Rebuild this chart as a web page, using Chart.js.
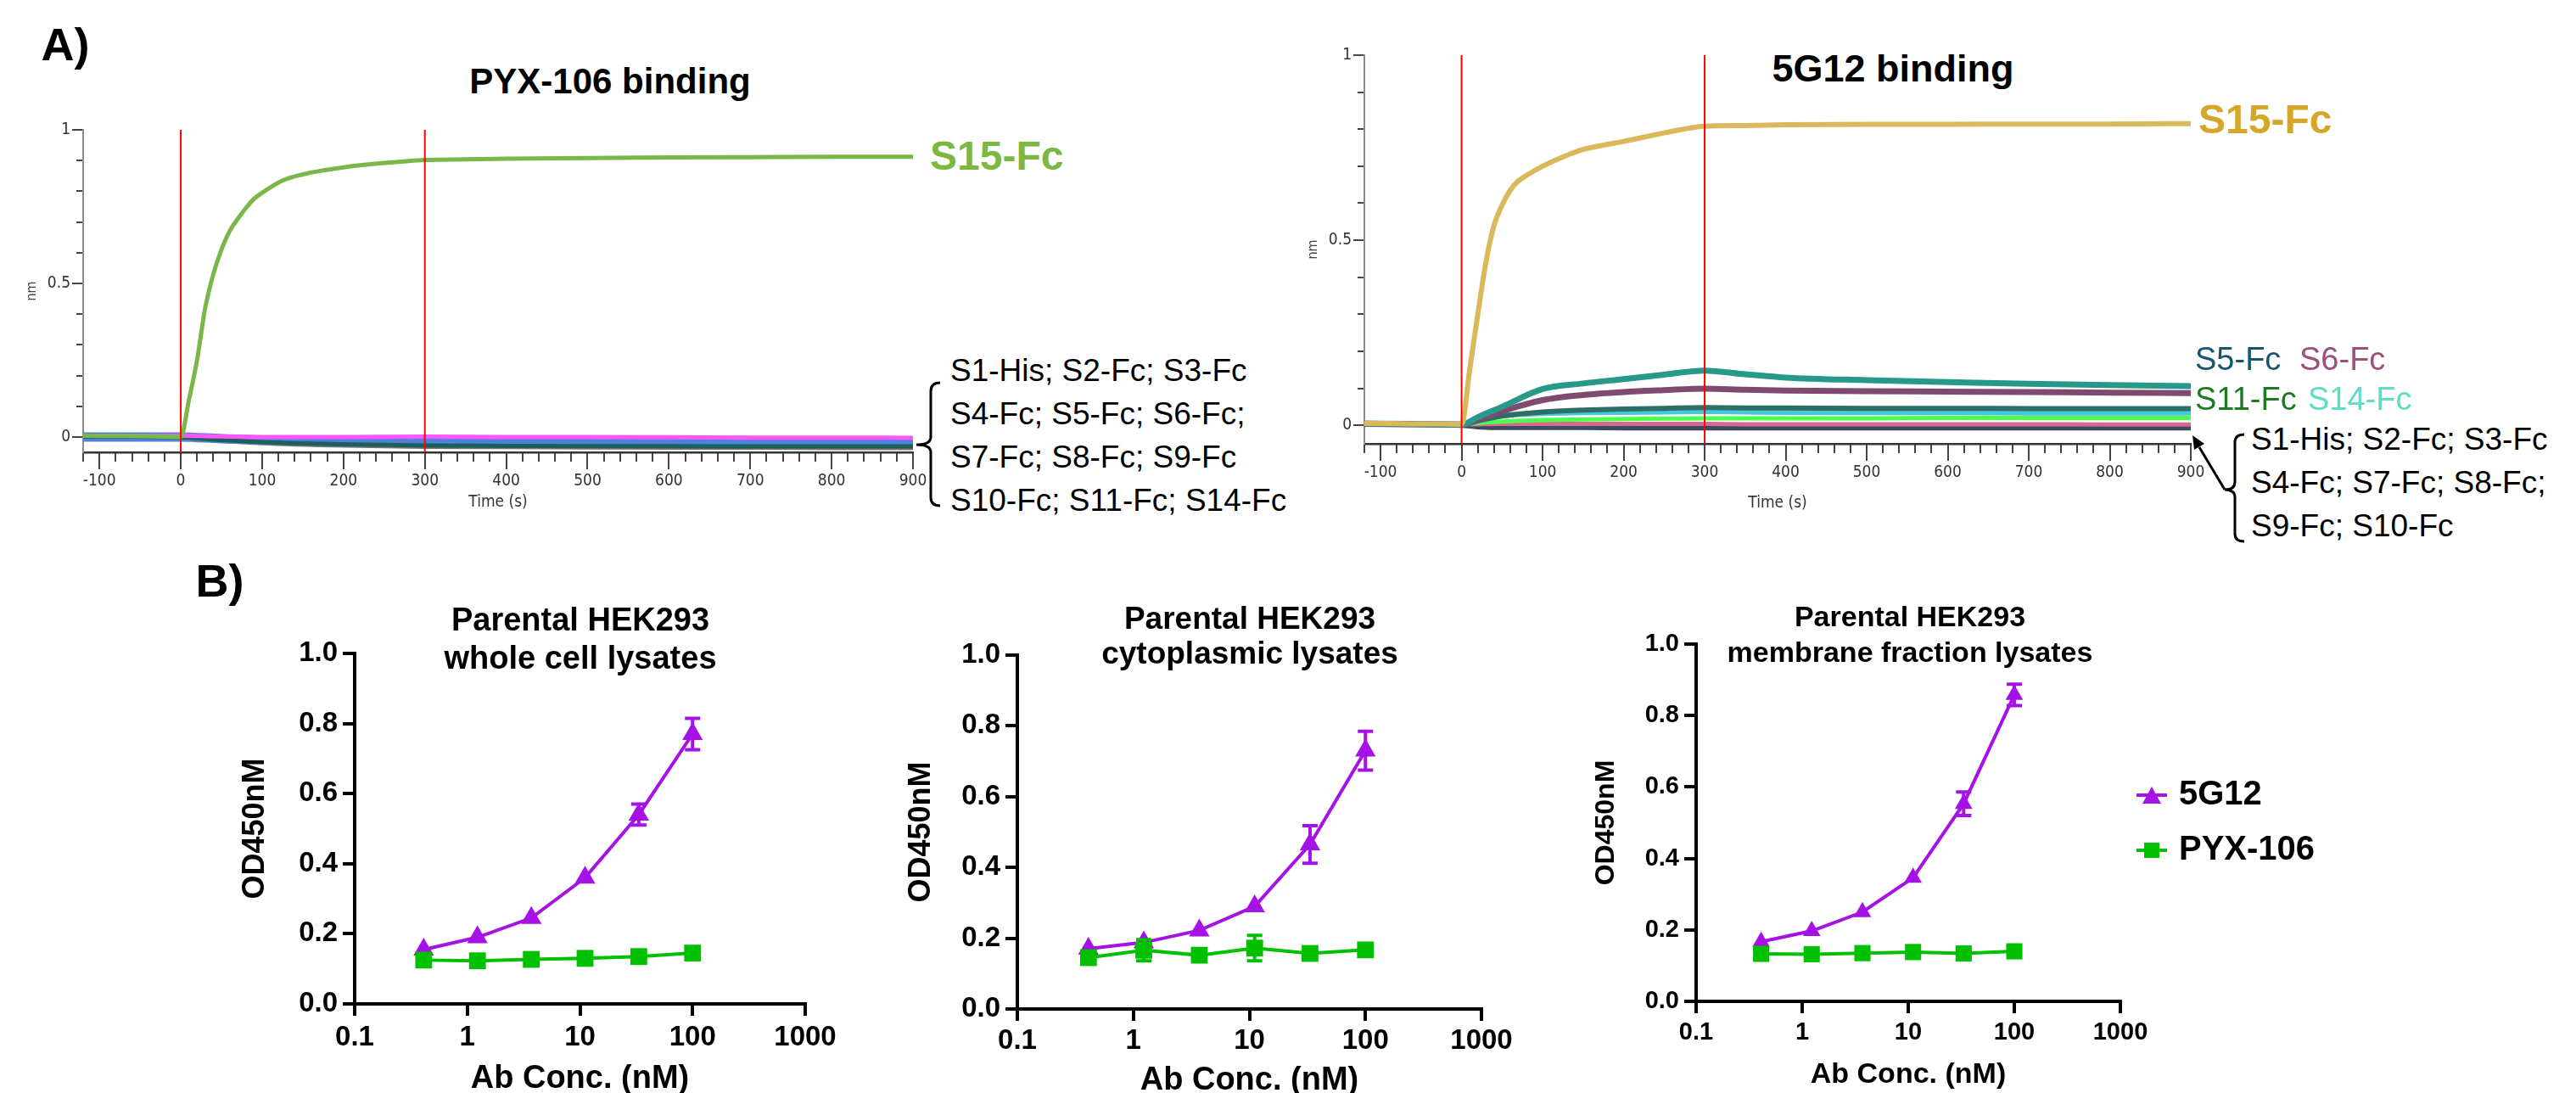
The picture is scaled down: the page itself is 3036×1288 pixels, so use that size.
<!DOCTYPE html>
<html>
<head>
<meta charset="utf-8">
<title>PYX-106 and 5G12 binding</title>
<script src="https://cdn.jsdelivr.net/npm/chart.js@4.4.1/dist/chart.umd.min.js"></script>
<style>
  html, body { margin: 0; padding: 0; background: #fff; }
  body { position: relative; width: 3036px; height: 1288px; overflow: hidden;
         font-family: "Liberation Sans", Arial, Helvetica, sans-serif; color: #000; }
  .plot { position: absolute; }
  .lbl { position: absolute; white-space: nowrap; line-height: 1; }
  .c { transform: translate(-50%, -50%); }
  .l { transform: translateY(-50%); }
  .b { font-weight: bold; }
  svg.ann { position: absolute; left: 0; top: 0; }
</style>
</head>
<body>

<div class="lbl c b" style="left:77px;top:52px;font-size:54px">A)</div>
<div class="lbl c b" style="left:259px;top:684px;font-size:54px">B)</div>

<div class="lbl c b" style="left:719px;top:96px;font-size:42px">PYX-106 binding</div>
<div class="lbl c b" style="left:2231px;top:80px;font-size:45px">5G12 binding</div>

<div class="plot" style="left:16px;top:120px;width:1080px;height:488px"><canvas id="pyxSensor"></canvas></div>
<div class="plot" style="left:1526px;top:40px;width:1076px;height:569px"><canvas id="g12Sensor"></canvas></div>

<div class="lbl l b" style="left:1096px;top:184px;font-size:48px;color:#7cb73f">S15-Fc</div>
<div class="lbl l" style="left:1120px;top:436px;font-size:37px">S1-His; S2-Fc; S3-Fc</div>
<div class="lbl l" style="left:1120px;top:487px;font-size:37px">S4-Fc; S5-Fc; S6-Fc;</div>
<div class="lbl l" style="left:1120px;top:538px;font-size:37px">S7-Fc; S8-Fc; S9-Fc</div>
<div class="lbl l" style="left:1120px;top:589px;font-size:37px">S10-Fc; S11-Fc; S14-Fc</div>

<div class="lbl l b" style="left:2591px;top:141px;font-size:48px;color:#d6a62c">S15-Fc</div>
<div class="lbl l" style="left:2587px;top:423px;font-size:38px;color:#17566e">S5-Fc</div>
<div class="lbl l" style="left:2710px;top:423px;font-size:38px;color:#9b4f7e">S6-Fc</div>
<div class="lbl l" style="left:2587px;top:470px;font-size:38px;color:#1e7b24">S11-Fc</div>
<div class="lbl l" style="left:2720px;top:470px;font-size:38px;color:#5edcc5">S14-Fc</div>
<div class="lbl l" style="left:2653px;top:517px;font-size:37px">S1-His; S2-Fc; S3-Fc</div>
<div class="lbl l" style="left:2653px;top:568px;font-size:37px">S4-Fc; S7-Fc; S8-Fc;</div>
<div class="lbl l" style="left:2653px;top:619px;font-size:37px">S9-Fc; S10-Fc</div>

<svg class="ann" width="3036" height="1288">
  <path d="M1108 451 Q1097 451 1097 461 L1097 515 Q1097 524 1080 524 Q1097 524 1097 533 L1097 586 Q1097 596 1108 596" fill="none" stroke="#000" stroke-width="3"/>
  <path d="M2645 512 Q2634 512 2634 521 L2634 568 Q2634 577 2622 577 Q2634 577 2634 586 L2634 629 Q2634 638 2645 638" fill="none" stroke="#000" stroke-width="3"/>
  <line x1="2622" y1="577" x2="2592" y2="527" stroke="#000" stroke-width="3"/>
  <polygon points="2584,513 2598,523 2586,530" fill="#000"/>
</svg>

<div class="lbl c b" style="left:684px;top:730px;font-size:38px">Parental HEK293</div>
<div class="lbl c b" style="left:684px;top:775px;font-size:38px">whole cell lysates</div>
<div class="lbl c b" style="left:1473px;top:728px;font-size:37px">Parental HEK293</div>
<div class="lbl c b" style="left:1473px;top:769px;font-size:37px">cytoplasmic lysates</div>
<div class="lbl c b" style="left:2251px;top:726px;font-size:34px">Parental HEK293</div>
<div class="lbl c b" style="left:2251px;top:768px;font-size:34px">membrane fraction lysates</div>

<div class="plot" style="left:260px;top:720px;width:739px;height:574px"><canvas id="wholeCell"></canvas></div>
<div class="plot" style="left:1045px;top:722px;width:751px;height:574px"><canvas id="cytoplasm"></canvas></div>
<div class="plot" style="left:1860px;top:709px;width:891px;height:578px"><canvas id="membrane"></canvas></div>

<script>
// ---- A) BLI sensorgrams (nm vs time, s) ----
const pyxTime = [-120, -90, -60, -30, 0, 10, 20, 30, 40, 50, 60, 70, 80, 90, 100, 125, 150, 175, 200, 250, 300, 350, 400, 500, 600, 700, 800, 900]
const pyxS15 = [0.004, 0.003, 0.003, 0.002, 0.0, 0.12, 0.25, 0.42, 0.53, 0.61, 0.67, 0.71, 0.745, 0.775, 0.795, 0.835, 0.855, 0.868, 0.878, 0.892, 0.902, 0.904, 0.906, 0.908, 0.91, 0.911, 0.912, 0.912]

const pyxBaseTime = [-120, -60, 0, 50, 100, 200, 300, 400, 500, 600, 700, 800, 900]
const pyxMagenta = [0.004, 0.003, 0.004, 0.002, 0.0, 0.0, 0.001, 0.0, 0.0, -0.001, -0.002, -0.002, -0.003]
const pyxBlue = [0.0, 0.0, 0.0, -0.006, -0.01, -0.014, -0.017, -0.018, -0.019, -0.019, -0.02, -0.02, -0.021]
const pyxTeal = [0.002, 0.001, -0.001, -0.01, -0.017, -0.024, -0.028, -0.029, -0.03, -0.03, -0.031, -0.031, -0.031]
const pyxGreen = [0.006, 0.004, 0.003, -0.008, -0.015, -0.022, -0.025, -0.026, -0.027, -0.027, -0.028, -0.028, -0.028]
const pyxGray = [0.0, -0.002, -0.002, -0.012, -0.02, -0.028, -0.032, -0.033, -0.034, -0.035, -0.035, -0.036, -0.036]
const pyxCyan = [0.002, 0.0, 0.0, -0.01, -0.016, -0.021, -0.024, -0.025, -0.026, -0.026, -0.027, -0.027, -0.027]

const g12Time = [-120, -90, -60, -30, 0, 10, 20, 30, 40, 50, 60, 70, 80, 100, 125, 150, 175, 200, 250, 300, 350, 400, 500, 600, 700, 800, 900]
const g12S15 = [0.005, 0.005, 0.004, 0.004, 0.003, 0.15, 0.3, 0.44, 0.54, 0.595, 0.635, 0.66, 0.675, 0.7, 0.725, 0.745, 0.757, 0.767, 0.79, 0.808, 0.81, 0.812, 0.813, 0.813, 0.814, 0.814, 0.815]

const g12BaseTime = [-120, -60, 0, 20, 50, 100, 150, 200, 250, 300, 350, 400, 500, 600, 700, 800, 900]
const g12S5 = [0.005, 0.004, 0.002, 0.022, 0.05, 0.098, 0.113, 0.125, 0.137, 0.148, 0.138, 0.129, 0.122, 0.117, 0.112, 0.109, 0.106]
const g12S6 = [0.004, 0.003, 0.002, 0.015, 0.038, 0.068, 0.082, 0.09, 0.095, 0.099, 0.096, 0.094, 0.092, 0.091, 0.09, 0.088, 0.087]
const g12S11 = [0.004, 0.003, 0.002, 0.012, 0.025, 0.036, 0.041, 0.044, 0.046, 0.048, 0.047, 0.047, 0.046, 0.046, 0.045, 0.045, 0.045]
const g12S14 = [0.005, 0.004, 0.003, 0.016, 0.026, 0.032, 0.034, 0.035, 0.036, 0.037, 0.036, 0.035, 0.034, 0.034, 0.033, 0.033, 0.033]
const g12Lime = [0.004, 0.003, 0.002, 0.006, 0.01, 0.014, 0.016, 0.017, 0.018, 0.019, 0.019, 0.019, 0.019, 0.02, 0.02, 0.02, 0.02]
const g12Pink = [0.004, 0.003, 0.002, 0.003, 0.004, 0.004, 0.004, 0.004, 0.004, 0.004, 0.003, 0.003, 0.003, 0.003, 0.003, 0.002, 0.002]
const g12Slate = [0.003, 0.002, 0.0, -0.004, -0.006, -0.006, -0.006, -0.007, -0.007, -0.007, -0.007, -0.007, -0.007, -0.007, -0.007, -0.007, -0.007]

const stepTimes = [0, 300]
const sensorRange = [-0.05, 1]

// ---- B) ELISA (OD450 vs antibody concentration, nM) ----
const conc = [0.41, 1.23, 3.7, 11.1, 33.3, 100]
const concTicks = [0.1, 1, 10, 100, 1000]

const wholeG12 = [0.155, 0.19, 0.245, 0.36, 0.54, 0.77]
const wholeG12Err = [0, 0, 0, 0, 0.03, 0.045]
const wholePyx = [0.125, 0.123, 0.127, 0.13, 0.135, 0.145]
const wholePyxErr = [0, 0, 0, 0, 0, 0]

const cytoG12 = [0.17, 0.188, 0.222, 0.29, 0.465, 0.73]
const cytoG12Err = [0, 0, 0, 0, 0.053, 0.055]
const cytoPyx = [0.145, 0.166, 0.152, 0.172, 0.157, 0.167]
const cytoPyxErr = [0, 0.03, 0, 0.036, 0, 0]

const membG12 = [0.167, 0.197, 0.25, 0.346, 0.553, 0.858]
const membG12Err = [0, 0, 0, 0, 0.033, 0.03]
const membPyx = [0.133, 0.132, 0.135, 0.138, 0.134, 0.14]
const membPyxErr = [0, 0, 0, 0, 0, 0]

const SANS = `'Liberation Sans', Arial, Helvetica, sans-serif`
const NARROW = `'Liberation Sans Narrow', 'Arial Narrow', 'DejaVu Sans Condensed', 'Liberation Sans', sans-serif`
const PURPLE = `#a612e6`
const GREEN = `#00c000`

const pts = (xs, ys) => xs.map((x, i) => ({ x, y: ys[i] }))

const trace = (label, xs, ys, color, width) => ({
  label,
  data: pts(xs, ys),
  borderColor: color,
  borderWidth: width,
  pointRadius: 0,
  cubicInterpolationMode: `monotone`,
  xAxisID: `x`,
  yAxisID: `y`,
})

const stepLines = () =>
  stepTimes.map((t) => trace(`step ${t}`, [t, t], sensorRange, `#ff0000`, 2))

function sensorChart(id, datasets, geo) {
  const tickFont = { family: NARROW, size: 19 }
  new Chart(document.getElementById(id), {
    type: `line`,
    data: { datasets },
    options: {
      responsive: true,
      maintainAspectRatio: false,
      animation: false,
      layout: { padding: { top: geo.padTop, right: 20, left: 0, bottom: 0 } },
      plugins: { legend: { display: false }, tooltip: { enabled: false } },
      scales: {
        x: {
          type: `linear`, axis: `x`, position: `bottom`, weight: 1,
          min: -120, max: 900,
          ticks: { stepSize: 100, includeBounds: false, autoSkip: false, maxRotation: 0, padding: 3, color: `#333`, font: tickFont },
          grid: { drawOnChartArea: false, tickLength: 20, color: `#444`, lineWidth: 2 },
          border: { color: `#333`, width: 2.5 },
          title: { display: true, text: `Time (s)`, color: `#333`, font: tickFont, padding: { top: 0, bottom: 5 } },
          afterFit: (s) => { s.height = geo.xHeight },
        },
        xm: {
          type: `linear`, axis: `x`, position: `bottom`, weight: 0,
          min: -120, max: 900,
          ticks: { display: false, stepSize: 20, includeBounds: false },
          grid: { drawOnChartArea: false, tickLength: 11, color: `#444`, lineWidth: 2 },
          border: { display: false },
          afterFit: (s) => { s.height = 0 },
        },
        y: {
          type: `linear`, axis: `y`, position: `left`, weight: 1,
          min: sensorRange[0], max: sensorRange[1],
          ticks: { stepSize: 0.5, includeBounds: false, padding: 2, color: `#333`, font: tickFont,
                   callback: (v) => String(+v.toFixed(2)) },
          grid: { drawOnChartArea: false, tickLength: 13, color: `#444`, lineWidth: 2 },
          border: { color: `#8c8c8c`, width: 2 },
          title: { display: true, text: `nm`, color: `#444`, font: { family: NARROW, size: 16 }, padding: { top: 12, bottom: 0 } },
          afterFit: (s) => { s.width = 82 },
        },
        ym: {
          type: `linear`, axis: `y`, position: `left`, weight: 0,
          min: sensorRange[0], max: sensorRange[1],
          ticks: { display: false, stepSize: 0.1, includeBounds: false },
          grid: { drawOnChartArea: false, tickLength: 8, color: `#444`, lineWidth: 2 },
          border: { display: false },
          afterFit: (s) => { s.width = 0 },
        },
      },
    },
  })
}

sensorChart(`pyxSensor`, [
  ...stepLines(),
  trace(`S15-Fc`, pyxTime, pyxS15, `#7ab648`, 5),
  trace(`S6-Fc`, pyxBaseTime, pyxMagenta, `#ff55ff`, 5),
  trace(`S10-Fc`, pyxBaseTime, pyxTeal, `#1f5f5b`, 5),
  trace(`S4-Fc`, pyxBaseTime, pyxBlue, `#4c82da`, 11),
  trace(`S11-Fc`, pyxBaseTime, pyxGreen, `#2f9e3a`, 5),
  trace(`S9-Fc`, pyxBaseTime, pyxGray, `#777777`, 5),
  trace(`S14-Fc`, pyxBaseTime, pyxCyan, `#2bb5c8`, 4),
], { padTop: 33, xHeight: 75 })

sensorChart(`g12Sensor`, [
  ...stepLines(),
  trace(`S15-Fc`, g12Time, g12S15, `#d9b95b`, 6),
  trace(`S5-Fc`, g12BaseTime, g12S5, `#26998a`, 7),
  trace(`S6-Fc`, g12BaseTime, g12S6, `#7e4a70`, 7),
  trace(`S11-Fc`, g12BaseTime, g12S11, `#2e6e69`, 6),
  trace(`S14-Fc`, g12BaseTime, g12S14, `#45c8d8`, 6),
  trace(`S8-Fc`, g12BaseTime, g12Lime, `#4cff4c`, 5),
  trace(`S2-Fc`, g12BaseTime, g12Pink, `#d56a8e`, 5),
  trace(`S1-His`, g12BaseTime, g12Slate, `#3c4a62`, 6),
], { padTop: 25, xHeight: 86 })

// error bars, placed through the chart's own scales
const errorBars = {
  id: `errorBars`,
  afterDatasetsDraw(chart) {
    const { ctx } = chart
    chart.data.datasets.forEach((ds, i) => {
      if (!ds.errors) return
      const meta = chart.getDatasetMeta(i)
      const xs = chart.scales[meta.xAxisID]
      const ys = chart.scales[meta.yAxisID]
      ctx.save()
      ctx.strokeStyle = ds.borderColor
      ctx.lineWidth = 4
      ds.data.forEach((p, j) => {
        const e = ds.errors[j]
        if (!e) return
        const x = xs.getPixelForValue(p.x)
        const lo = ys.getPixelForValue(p.y - e)
        const hi = ys.getPixelForValue(p.y + e)
        ctx.beginPath()
        ctx.moveTo(x, lo); ctx.lineTo(x, hi)
        ctx.moveTo(x - 9, lo); ctx.lineTo(x + 9, lo)
        ctx.moveTo(x - 9, hi); ctx.lineTo(x + 9, hi)
        ctx.stroke()
      })
      ctx.restore()
    })
  },
}

function legendIcon(color, shape) {
  const c = document.createElement(`canvas`)
  c.width = 36
  c.height = 22
  const g = c.getContext(`2d`)
  g.fillStyle = color
  g.fillRect(0, 9, 36, 4)
  g.beginPath()
  if (shape === `triangle`) {
    g.moveTo(18, 1); g.lineTo(29, 21); g.lineTo(7, 21)
  } else {
    g.rect(9, 2, 18, 18)
  }
  g.fill()
  return c
}
const legendIcons = { "5G12": legendIcon(PURPLE, `triangle`), "PYX-106": legendIcon(GREEN, `rect`) }

function elisaChart(id, g12, g12Err, pyx, pyxErr, geo) {
  const tickFont = { family: SANS, size: geo.tick, weight: `bold` }
  const titleFont = { family: SANS, size: geo.title, weight: `bold` }
  const axisLine = { drawOnChartArea: false, tickLength: 14, color: `#000`, lineWidth: 4 }
  new Chart(document.getElementById(id), {
    type: `line`,
    data: {
      datasets: [
        { label: `PYX-106`, data: pts(conc, pyx), errors: pyxErr, borderColor: GREEN, backgroundColor: GREEN,
          borderWidth: 4, pointStyle: `rect`, pointRadius: geo.sq, pointBorderWidth: 0 },
        { label: `5G12`, data: pts(conc, g12), errors: g12Err, borderColor: PURPLE, backgroundColor: PURPLE,
          borderWidth: 4, pointStyle: `triangle`, pointRadius: geo.tri, pointBorderWidth: 0 },
      ],
    },
    plugins: [errorBars],
    options: {
      responsive: true,
      maintainAspectRatio: false,
      animation: false,
      layout: { padding: { top: 50, right: geo.padRight, left: 0, bottom: 0 } },
      plugins: {
        tooltip: { enabled: false },
        legend: geo.legend
          ? {
              display: true, position: `right`, fullSize: false, maxWidth: 232,
              labels: {
                usePointStyle: true, pointStyleWidth: 24, padding: 25, color: `#000`,
                font: { family: SANS, size: 40, weight: `bold` },
                generateLabels: (chart) =>
                  Chart.defaults.plugins.legend.labels.generateLabels(chart)
                    .map((it) => ({ ...it, pointStyle: legendIcons[it.text] }))
                    .reverse(),
              },
            }
          : { display: false },
      },
      scales: {
        x: {
          type: `logarithmic`, min: 0.1, max: 1000,
          afterBuildTicks: (s) => { s.ticks = concTicks.map((value) => ({ value })) },
          ticks: { autoSkip: false, maxRotation: 0, padding: geo.xPad, color: `#000`, font: tickFont,
                   callback: (v) => String(v) },
          grid: axisLine,
          border: { color: `#000`, width: 4 },
          title: { display: true, text: `Ab Conc. (nM)`, color: `#000`, font: titleFont, padding: { top: 0, bottom: 0 } },
          afterFit: (s) => { s.height = geo.xHeight },
        },
        y: {
          min: 0, max: 1,
          ticks: { stepSize: 0.2, padding: 6, color: `#000`, font: tickFont, callback: (v) => v.toFixed(1) },
          grid: axisLine,
          border: { color: `#000`, width: 4 },
          title: { display: true, text: `OD450nM`, color: `#000`, font: { family: SANS, size: geo.yTitle, weight: `bold` },
                   padding: { top: geo.yTitlePad, bottom: 0 } },
          afterFit: (s) => { s.width = geo.yWidth },
        },
      },
    },
  })
}

elisaChart(`wholeCell`, wholeG12, wholeG12Err, wholePyx, wholePyxErr,
  { tick: 33, title: 38, yTitle: 36, yTitlePad: 19, yWidth: 158, xHeight: 111, xPad: 6, padRight: 50, tri: 14, sq: 14 })
elisaChart(`cytoplasm`, cytoG12, cytoG12Err, cytoPyx, cytoPyxErr,
  { tick: 33, title: 38, yTitle: 36, yTitlePad: 19, yWidth: 154, xHeight: 107, xPad: 4, padRight: 50, tri: 14, sq: 14 })
elisaChart(`membrane`, membG12, membG12Err, membPyx, membPyxErr,
  { tick: 29, title: 34, yTitle: 32, yTitlePad: 14, yWidth: 139, xHeight: 107, xPad: 6, padRight: 20, tri: 12, sq: 13.5, legend: true })
</script>
</body>
</html>
